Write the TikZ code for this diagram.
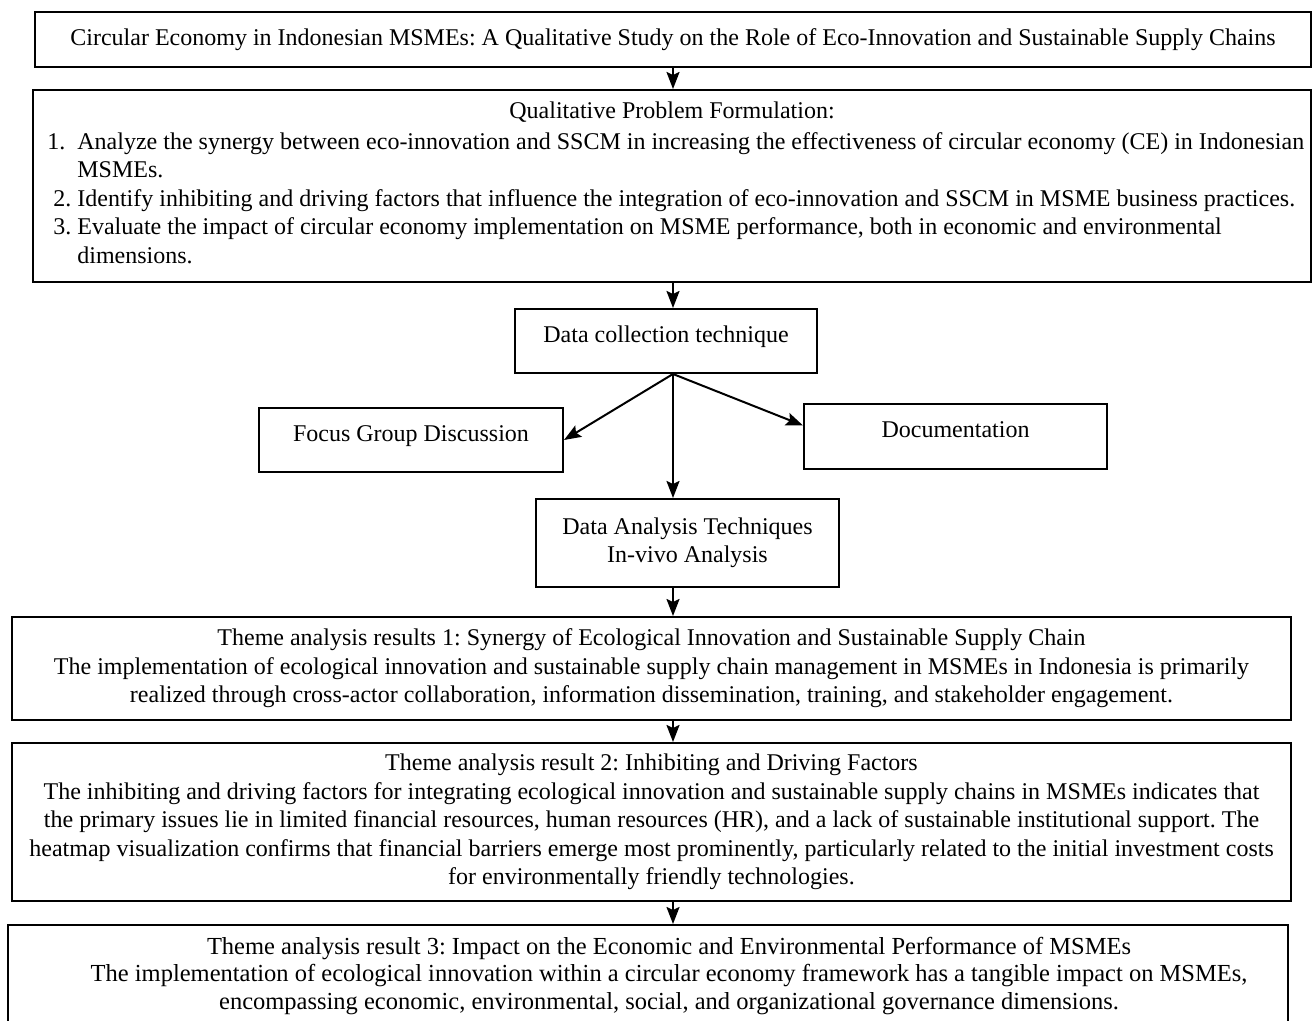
\documentclass[tikz,border=0pt]{standalone}
\usepackage{fontspec}
\setmainfont{Liberation Serif}
\usetikzlibrary{arrows.meta}
\frenchspacing

\tikzset{
  box/.style={draw, line width=1pt, inner sep=0pt, align=center},
  upbox/.style={box, text height=9pt, text depth=7.5pt},
  arr/.style={-{Stealth[length=8.5pt,width=6.5pt,inset=1.5pt]}, line width=1pt},
}

\begin{document}
\begin{tikzpicture}[x=.5pt, y=-.5pt, every node/.style={font=\fontsize{12}{14.2}\selectfont}]
  \clip (0,0) rectangle (1312,1021);
  \coordinate (spine) at (673,0);
  \node[box, minimum width=638pt, minimum height=27.5pt] (title) at (673,39.5)
    {Circular Economy in Indonesian MSMEs: A Qualitative Study on the Role of Eco-Innovation and Sustainable Supply Chains};
  \node[box, minimum width=639pt, minimum height=96pt] (problems) at (672,186) {};
  \node (probhead) at (672,112) {Qualitative Problem Formulation:};
  \node[anchor=west, inner sep=0pt, align=left] (problist) at (47,198)
    {\makebox[15pt][l]{1.}Analyze the synergy between eco-innovation and SSCM in increasing the effectiveness of circular economy (CE) in Indonesian\\
     \hspace*{15pt}MSMEs.\\
     \makebox[15pt][l]{\hspace{3pt}2.}Identify inhibiting and driving factors that influence the integration of eco-innovation and SSCM in MSME business practices.\\
     \makebox[15pt][l]{\hspace{3pt}3.}Evaluate the impact of circular economy implementation on MSME performance, both in economic and environmental\\
     \hspace*{15pt}dimensions.};
  \node[upbox, minimum width=151pt, minimum height=32pt] (collect) at (666,341) {Data collection technique};
  \node[upbox, minimum width=152pt, minimum height=32pt] (fgd) at (411,440) {Focus Group Discussion};
  \node[upbox, minimum width=151.5pt, minimum height=32.5pt] (doc) at (955.5,436.5) {Documentation};
  \node[box, minimum width=151.5pt, minimum height=44pt] (analysis) at (687.5,543)
    {Data Analysis Techniques\\In-vivo Analysis};
  \node[box, minimum width=639.5pt, minimum height=51.5pt] (theme1) at (651.5,668.5)
    {Theme analysis results 1: Synergy of Ecological Innovation and Sustainable Supply Chain\\
     The implementation of ecological innovation and sustainable supply chain management in MSMEs in Indonesia is primarily\\
     realized through cross-actor collaboration, information dissemination, training, and stakeholder engagement.};
  \node[box, minimum width=639.5pt, minimum height=79pt] (theme2) at (651.5,822)
    {Theme analysis result 2: Inhibiting and Driving Factors\\
     The inhibiting and driving factors for integrating ecological innovation and sustainable supply chains in MSMEs indicates that\\
     the primary issues lie in limited financial resources, human resources (HR), and a lack of sustainable institutional support. The\\
     heatmap visualization confirms that financial barriers emerge most prominently, particularly related to the initial investment costs\\
     for environmentally friendly technologies.};
  \node[box, minimum width=640pt, minimum height=51.5pt] (theme3) at (648,976.5) {};
  \node[align=center, font=\fontsize{12.25}{13.8}\selectfont] (theme3txt) at (669,976)
    {Theme analysis result 3: Impact on the Economic and Environmental Performance of MSMEs\\
     The implementation of ecological innovation within a circular economy framework has a tangible impact on MSMEs,\\
     encompassing economic, environmental, social, and organizational governance dimensions.};
  % main line
  \foreach \a/\b in {title/problems, problems/collect, collect/analysis, analysis/theme1, theme1/theme2, theme2/theme3}
    \draw[arr] (\a.south -| spine) -- (\b.north -| spine);
  \draw[arr] (collect.south -| spine) -- (fgd.east);
  \draw[arr] (collect.south -| spine) -- ([yshift=5.5pt]doc.west);
\end{tikzpicture}
\end{document}
